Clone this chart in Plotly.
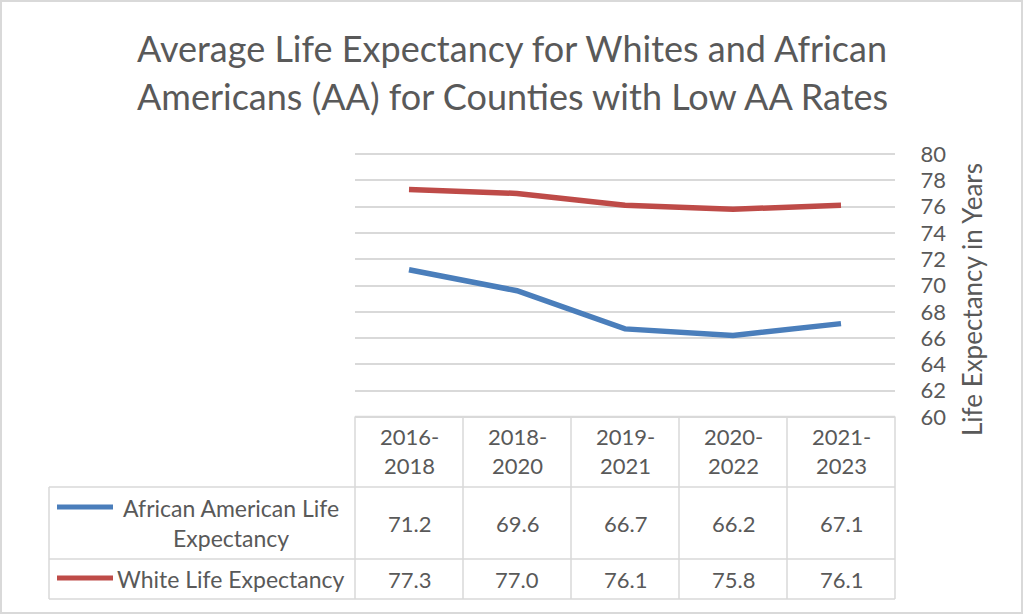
import plotly.graph_objects as go

# ---- data ----
periods = ["2016-2018", "2018-2020", "2019-2021", "2020-2022", "2021-2023"]
aa_life = [71.2, 69.6, 66.7, 66.2, 67.1]
white_life = [77.3, 77.0, 76.1, 75.8, 76.1]
series_names = ["African American Life<br>Expectancy", "White Life Expectancy"]
y_ticks = [60, 62, 64, 66, 68, 70, 72, 74, 76, 78, 80]

title_lines = ["Average Life Expectancy for Whites and African",
               "Americans (AA) for Counties with Low AA Rates"]
y_title = "Life Expectancy in Years"

# ---- style ----
W, H = 1024, 615
FONT = "Lato"
TXT = "#595959"
GRID = "#d9d9d9"
BLUE = "#4a7ebb"
RED = "#be4b48"

def px(x):
    return x / W

def py(y):
    return 1 - y / H

plot_left, plot_right = 355, 895
y60_px, y80_px = 417, 154          # pixel rows of the 60 and 80 gridlines
pad_units = 0.2                    # small padding so edge gridlines are drawn
unit_px = (y60_px - y80_px) / 20.0
plot_top = y80_px - pad_units * unit_px
plot_bottom = y60_px + pad_units * unit_px
col_w = (plot_right - plot_left) / len(periods)
row_lines = [416.5, 487, 559, 599]
legend_left = 49

fig = go.Figure()
x_idx = list(range(len(periods)))
fig.add_trace(go.Scatter(x=x_idx, y=aa_life, mode="lines",
                         line=dict(color=BLUE, width=5.5), name="AA",
                         showlegend=False, hoverinfo="skip"))
fig.add_trace(go.Scatter(x=x_idx, y=white_life, mode="lines",
                         line=dict(color=RED, width=5.5), name="White",
                         showlegend=False, hoverinfo="skip"))

shapes = []
# outer border
shapes.append(dict(type="rect", xref="paper", yref="paper",
                   x0=px(1), x1=px(1022), y0=py(613), y1=py(1),
                   line=dict(color=GRID, width=2)))
# table horizontal lines
shapes.append(dict(type="line", xref="paper", yref="paper",
                   x0=px(plot_left), x1=px(plot_right), y0=py(row_lines[0]), y1=py(row_lines[0]),
                   line=dict(color=GRID, width=1.5)))
for yl in row_lines[1:]:
    shapes.append(dict(type="line", xref="paper", yref="paper",
                       x0=px(legend_left), x1=px(plot_right), y0=py(yl), y1=py(yl),
                       line=dict(color=GRID, width=1.5)))
# table vertical lines
shapes.append(dict(type="line", xref="paper", yref="paper",
                   x0=px(legend_left), x1=px(legend_left), y0=py(row_lines[1]), y1=py(row_lines[3]),
                   line=dict(color=GRID, width=1.5)))
for i in range(len(periods) + 1):
    xv = plot_left + i * col_w
    shapes.append(dict(type="line", xref="paper", yref="paper",
                       x0=px(xv), x1=px(xv), y0=py(row_lines[0]), y1=py(row_lines[3]),
                       line=dict(color=GRID, width=1.5)))
# legend keys
for yk, col in [(507, BLUE), (578, RED)]:
    shapes.append(dict(type="line", xref="paper", yref="paper",
                       x0=px(57), x1=px(113), y0=py(yk), y1=py(yk),
                       line=dict(color=col, width=5)))

annotations = []
# title
for yy, t in zip([48, 96], title_lines):
    annotations.append(dict(text=t, x=0.5, y=py(yy), xref="paper", yref="paper",
                            xanchor="center", yanchor="middle", showarrow=False,
                            font=dict(family=FONT, size=36, color=TXT)))
# y axis title
annotations.append(dict(text=y_title, x=px(972), y=py(300), xref="paper", yref="paper",
                        xanchor="center", yanchor="middle", textangle=-90, showarrow=False,
                        font=dict(family=FONT, size=26, color=TXT)))
# header row
for i, p in enumerate(periods):
    a, b = p.split("-")
    annotations.append(dict(text=f"{a}-<br>{b}", x=i, y=py(451), xref="x", yref="paper",
                            xanchor="center", yanchor="middle", showarrow=False, align="center",
                            font=dict(family=FONT, size=22, color=TXT)))
# data rows
row_centers = [523, 579]
for vals, yc in zip([aa_life, white_life], row_centers):
    for i, v in enumerate(vals):
        annotations.append(dict(text=f"{v:.1f}", x=i, y=py(yc), xref="x", yref="paper",
                                xanchor="center", yanchor="middle", showarrow=False,
                                font=dict(family=FONT, size=22, color=TXT)))
# legend labels
for name, yc in zip(series_names, row_centers):
    annotations.append(dict(text=name, x=px(231), y=py(yc), xref="paper", yref="paper",
                            xanchor="center", yanchor="middle", showarrow=False, align="center",
                            font=dict(family=FONT, size=23, color=TXT)))

fig.update_layout(
    width=W, height=H,
    margin=dict(l=0, r=0, t=0, b=0, pad=0),
    paper_bgcolor="white", plot_bgcolor="white",
    shapes=shapes, annotations=annotations,
    xaxis=dict(domain=[px(plot_left), px(plot_right)], range=[-0.5, len(periods) - 0.5],
               showticklabels=False, showgrid=False, zeroline=False, showline=False,
               automargin=False, fixedrange=True),
    yaxis=dict(domain=[py(plot_bottom), py(plot_top)],
               range=[60 - pad_units, 80 + pad_units], side="right",
               tickvals=y_ticks, showgrid=True, gridcolor=GRID, gridwidth=1.5,
               zeroline=False, showline=False, ticks="outside", ticklen=20,
               tickcolor="rgba(0,0,0,0)", automargin=False,
               tickfont=dict(family=FONT, size=22, color=TXT), fixedrange=True),
    showlegend=False,
)

fig.write_html("out.html")
